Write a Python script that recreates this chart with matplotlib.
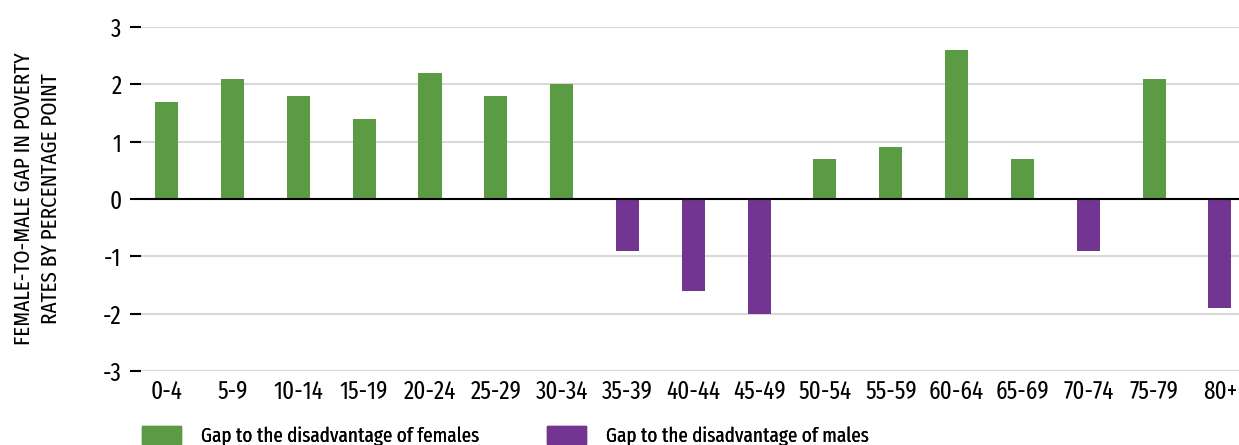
import matplotlib.pyplot as plt
from matplotlib.patches import Patch
import numpy as np

plt.rcParams['font.family'] = ['Fira Sans Extra Condensed', 'DejaVu Sans']

# Data
age_groups = ['0-4', '5-9', '10-14', '15-19', '20-24', '25-29', '30-34', '35-39',
              '40-44', '45-49', '50-54', '55-59', '60-64', '65-69', '70-74', '75-79', '80+']
gap = [1.7, 2.1, 1.8, 1.4, 2.2, 1.8, 2.0, -0.9, -1.6, -2.0, 0.7, 0.9, 2.6, 0.7, -0.9, 2.1, -1.9]
y_ticks = [-3, -2, -1, 0, 1, 2, 3]

green = '#5b9b44'
purple = '#733592'

fig = plt.figure(figsize=(12.39, 4.45), dpi=100)
ax = fig.add_axes([141 / 1239, 1 - 371 / 445, 1 - 141 / 1239, (371 - 27) / 445])

x = np.arange(len(age_groups))
colors = [green if v > 0 else purple for v in gap]
ax.bar(x, gap, width=0.35, color=colors, zorder=3)

# Grid and zero line
ax.set_ylim(-3, 3)
ax.set_xlim(-0.39, len(age_groups) - 0.71)
ax.set_yticks(y_ticks)
ax.set_yticklabels([str(t) for t in y_ticks], fontsize=18)
ax.grid(axis='y', color='#d9d9d9', linewidth=1.5, zorder=0)
ax.axhline(0, color='black', linewidth=1.5, zorder=4)
ax.tick_params(axis='y', length=8, width=1.5, color='black', pad=6)
ax.tick_params(axis='x', length=0, pad=6)
ax.set_xticks(x)
ax.set_xticklabels(age_groups, fontsize=18)
for s in ax.spines.values():
    s.set_visible(False)

ax.set_ylabel('FEMALE-TO-MALE GAP IN POVERTY\nRATES BY PERCENTAGE POINT', fontsize=16.5,
              linespacing=1.3, labelpad=30)

# Legend
legend_items = [(green, 'Gap to the disadvantage of females', 142),
                (purple, 'Gap to the disadvantage of males', 547)]
for color, label, px in legend_items:
    leg = fig.legend(handles=[Patch(color=color, label=label)], loc='center left',
                     bbox_to_anchor=(px / 1239, 1 - 436 / 445), frameon=False, fontsize=15,
                     handlelength=1.85, handleheight=1.0, handletextpad=1.0, borderpad=0,
                     borderaxespad=0)
    fig.add_artist(leg)

plt.savefig('out.png', dpi=100)
